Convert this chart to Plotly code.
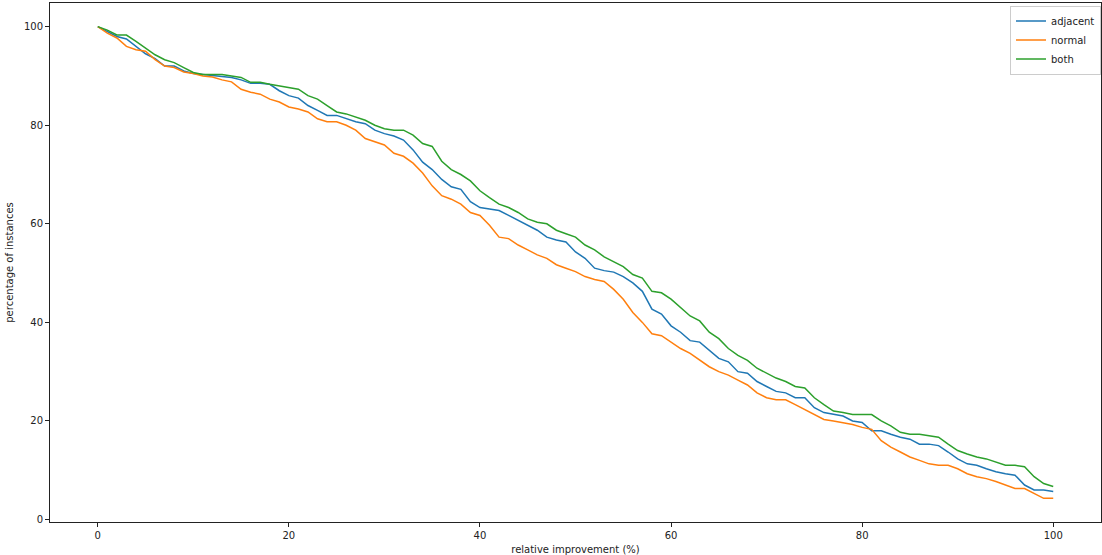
import plotly.graph_objects as go

# relative improvement thresholds (%)
improvement = list(range(0, 101))

adjacent = [
    100, 99, 98, 97.5, 96, 94.5, 93.5, 92, 92, 91,
    90.5, 90.3, 90.2, 90, 89.7, 89.2, 88.5, 88.5, 88.3, 87,
    86, 85.5, 84, 83, 82, 82, 81.3, 80.7, 80.3, 79,
    78.3, 77.8, 77, 75, 72.5, 71, 69, 67.5, 67, 64.5,
    63.3, 63, 62.7, 61.7, 60.7, 59.7, 58.7, 57.3, 56.7, 56.3,
    54.3, 53, 51, 50.5, 50.2, 49.3, 48, 46.3, 42.7, 41.7,
    39.3, 38, 36.3, 36, 34.3, 32.7, 32, 30, 29.7, 28,
    27, 26, 25.7, 24.7, 24.7, 22.7, 21.7, 21.3, 21, 20,
    19.7, 18, 18, 17.3, 16.7, 16.3, 15.3, 15.3, 15, 13.7,
    12.3, 11.3, 11, 10.3, 9.7, 9.3, 9, 7, 6, 6,
    5.7,
]

normal = [
    100, 98.7, 97.7, 96, 95.3, 95, 93.3, 92, 91.7, 90.8,
    90.5, 90, 89.8, 89.2, 88.8, 87.3, 86.7, 86.3, 85.3, 84.7,
    83.7, 83.3, 82.7, 81.3, 80.7, 80.7, 80, 79, 77.3, 76.7,
    76, 74.3, 73.7, 72.3, 70.3, 67.7, 65.7, 65, 64, 62.3,
    61.7, 59.7, 57.3, 57, 55.7, 54.7, 53.7, 53, 51.7, 51,
    50.3, 49.3, 48.7, 48.3, 46.7, 44.7, 42, 40, 37.7, 37.3,
    36, 34.7, 33.7, 32.3, 31, 30, 29.3, 28.3, 27.3, 25.7,
    24.7, 24.3, 24.3, 23.3, 22.3, 21.3, 20.3, 20, 19.7, 19.3,
    18.7, 18.3, 16, 14.7, 13.7, 12.7, 12, 11.3, 11, 11,
    10.3, 9.3, 8.7, 8.3, 7.7, 7, 6.3, 6.3, 5.3, 4.3,
    4.3,
]

both = [
    100, 99.3, 98.3, 98.3, 97, 95.7, 94.3, 93.3, 92.7, 91.7,
    90.7, 90.3, 90.3, 90.3, 90, 89.7, 88.7, 88.7, 88.3, 88,
    87.7, 87.3, 86, 85.3, 84, 82.7, 82.3, 81.7, 81, 80,
    79.3, 79, 79, 78, 76.3, 75.7, 72.7, 71, 70, 68.7,
    66.7, 65.3, 64, 63.3, 62.3, 61, 60.3, 60, 58.7, 58,
    57.3, 55.7, 54.7, 53.3, 52.3, 51.3, 49.7, 49, 46.3, 46,
    44.7, 43, 41.3, 40.3, 38, 36.7, 34.7, 33.3, 32.3, 30.7,
    29.7, 28.7, 28, 27, 26.7, 24.7, 23.3, 22, 21.7, 21.3,
    21.3, 21.3, 20, 19, 17.7, 17.3, 17.3, 17, 16.7, 15.3,
    14, 13.3, 12.7, 12.3, 11.7, 11, 11, 10.7, 8.7, 7.3,
    6.7,
]

series = [
    ("adjacent", adjacent, "#1f77b4"),
    ("normal", normal, "#ff7f0e"),
    ("both", both, "#2ca02c"),
]

fig = go.Figure()
for name, values, color in series:
    fig.add_trace(go.Scatter(
        x=improvement, y=values, mode="lines", name=name,
        line=dict(color=color, width=1.5),
    ))

axis_common = dict(
    showgrid=False, zeroline=False, showline=True, mirror=True,
    linecolor="#222222", linewidth=1, ticks="outside", ticklen=4,
    tickcolor="#222222", tickfont=dict(size=10, color="#222222"),
)

fig.update_layout(
    width=1102, height=555,
    margin=dict(l=50, r=1, t=3, b=33),
    paper_bgcolor="white", plot_bgcolor="white",
    font=dict(family="DejaVu Sans", size=10, color="#222222"),
    xaxis=dict(range=[-5, 105], tickvals=[0, 20, 40, 60, 80, 100],
               title=dict(text="relative improvement (%)", standoff=6, font=dict(size=10)),
               **axis_common),
    yaxis=dict(range=[-0.5, 104.8], tickvals=[0, 20, 40, 60, 80, 100],
               title=dict(text="percentage of instances", standoff=8, font=dict(size=10)),
               **axis_common),
    legend=dict(x=1.0, y=0.995, xanchor="right", yanchor="top",
                bgcolor="white", bordercolor="#cccccc", borderwidth=1,
                font=dict(size=10), tracegroupgap=0, itemwidth=30),
    showlegend=True,
)

fig.write_html("out.html")
